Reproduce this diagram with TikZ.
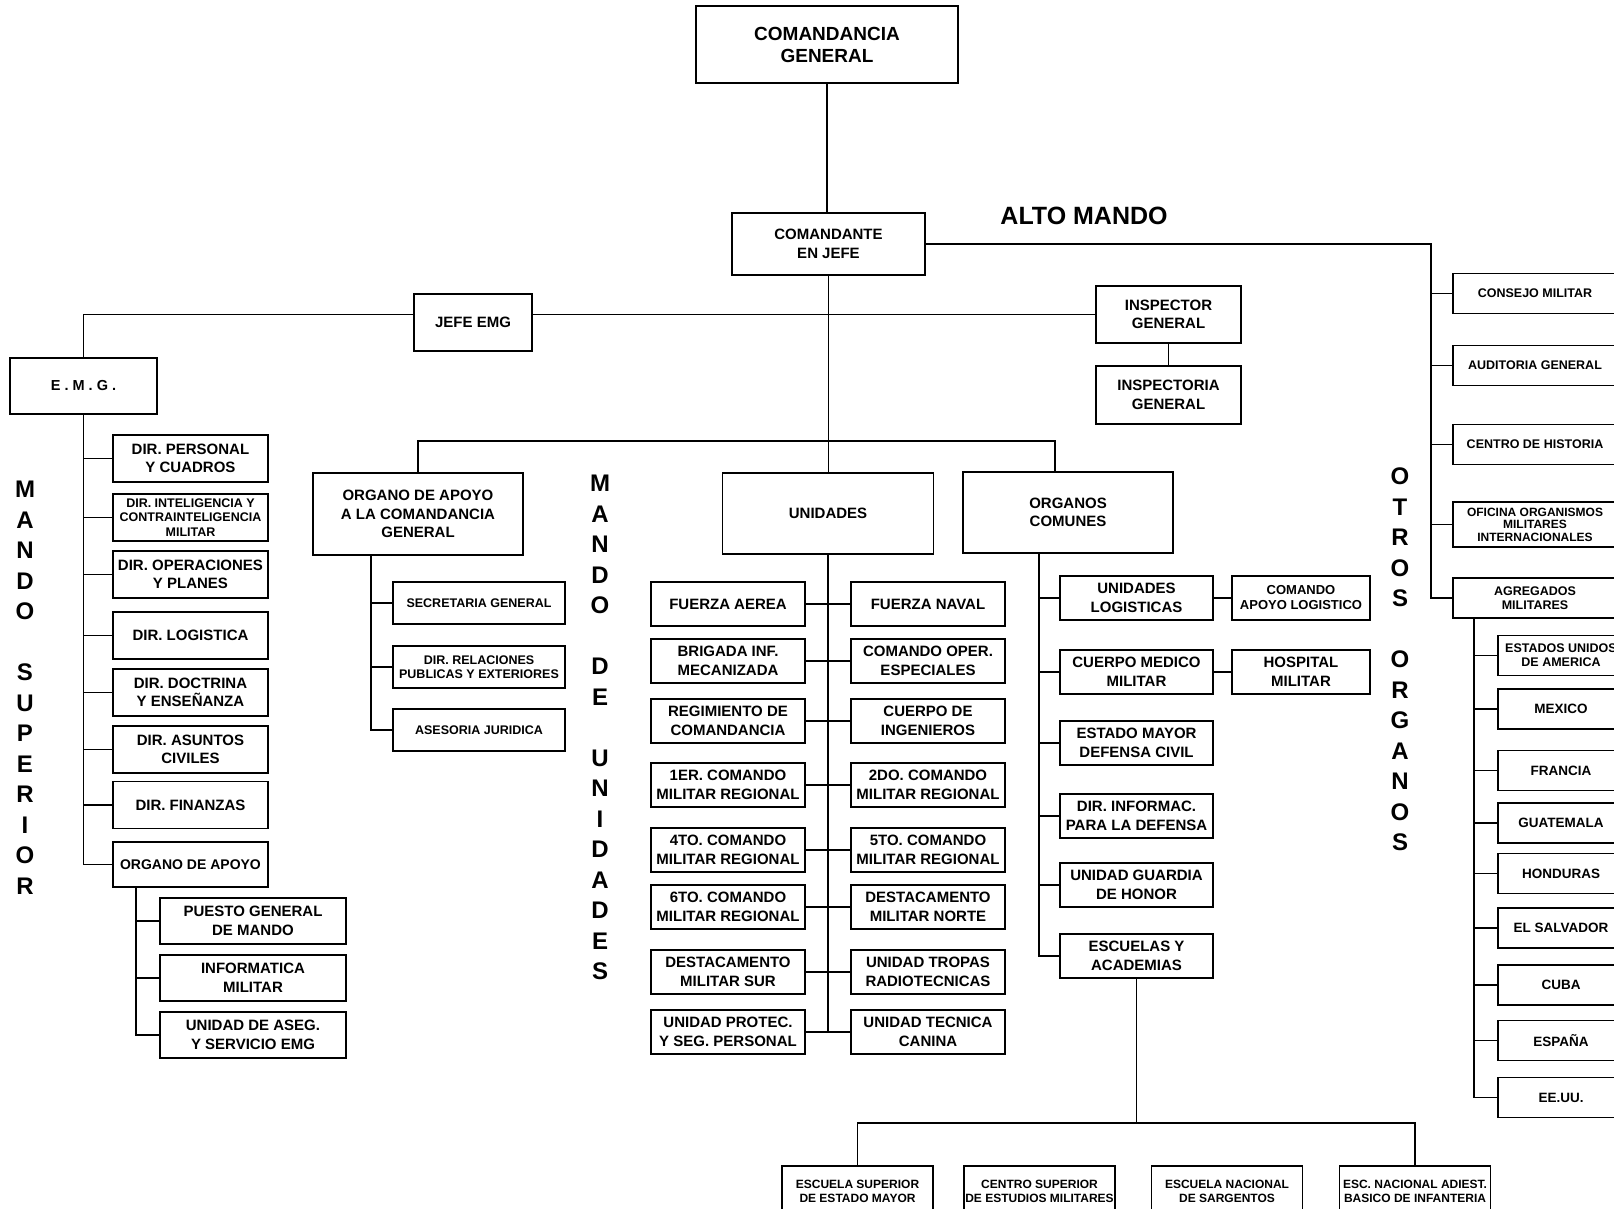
\documentclass[tikz,border=0pt]{standalone}
\usepackage{fontspec}
\setmainfont{Liberation Sans}
\usetikzlibrary{positioning}

\tikzset{
  box/.style={draw,fill=white,line width=1.8pt,align=center,inner sep=1pt,
    font=\bfseries\fontsize{15}{18.5}\selectfont},
  sbox/.style={box,font=\bfseries\fontsize{12.5}{14}\selectfont},
  dirbox/.style={box,minimum width=155,minimum height=47},
  unibox/.style={box,minimum width=154,minimum height=44},
  ocbox/.style={box,minimum width=153,minimum height=44},
  otbox/.style={sbox,minimum width=164,minimum height=40},
  cbox/.style={box,font=\bfseries\fontsize{13.5}{15}\selectfont,minimum width=126,minimum height=40},
  esbox/.style={sbox,font=\bfseries\fontsize{12}{14}\selectfont,minimum width=151,minimum height=50},
  vlet/.style={align=center,inner sep=0pt,font=\bfseries\fontsize{24}{30.5}\selectfont},
  conn/.style={line width=1.6pt}
}

\begin{document}
\begin{tikzpicture}[x=1pt,y=-1pt]
  \useasboundingbox (0,0) rectangle (1614,1209);
  \fill[white] (0,0) rectangle (1614,1209);
  \clip (0,0) rectangle (1614,1209);

  % alto mando
  \node[box,font=\bfseries\fontsize{19}{22}\selectfont,minimum width=262,minimum height=77] (cg) at (827,44.5) {COMANDANCIA\\GENERAL};
  \node[box,minimum width=193,minimum height=62] (cej) at (828.5,244) {COMANDANTE\\EN JEFE};
  \node[font=\bfseries\fontsize{25}{30}\selectfont] (alto) at (1084,216) {ALTO MANDO};
  \node[box,minimum width=118,minimum height=57] (jefe) at (473,322.5) {JEFE EMG};
  \node[box,minimum width=145,minimum height=57] (insp) at (1168.5,314.5) {INSPECTOR\\GENERAL};
  \node[box,minimum width=145,minimum height=58] (inspria) at (1168.5,395) {INSPECTORIA\\GENERAL};
  \node[box,font=\bfseries\fontsize{14.5}{17}\selectfont,minimum width=147,minimum height=56] (emg) at (83.5,386) {E . M . G .};

  % mando superior
  \node[vlet] (msup) at (25,687.5) {M\\A\\N\\D\\O\\[30.5pt]S\\U\\P\\E\\R\\I\\O\\R};
  \node[dirbox] (dper) at (190.5,458.5) {DIR. PERSONAL\\Y CUADROS};
  \node[dirbox,font=\bfseries\fontsize{12.5}{14.5}\selectfont] (dint) at (190.5,517.5) {DIR. INTELIGENCIA Y\\CONTRAINTELIGENCIA\\MILITAR};
  \node[dirbox] (dop) at (190.5,574.5) {DIR. OPERACIONES\\Y PLANES};
  \node[dirbox] (dlog) at (190.5,635.5) {DIR. LOGISTICA};
  \node[dirbox] (ddoc) at (190.5,692.5) {DIR. DOCTRINA\\Y ENSEÑANZA};
  \node[dirbox] (dciv) at (190.5,749.5) {DIR. ASUNTOS\\CIVILES};
  \node[dirbox] (dfin) at (190.5,805) {DIR. FINANZAS};
  \node[dirbox,font=\bfseries\fontsize{14}{17}\selectfont,minimum height=45] (oapoyo) at (190.5,864.5) {ORGANO DE APOYO};
  \node[box,minimum width=186,minimum height=46] (pgm) at (253,921) {PUESTO GENERAL\\DE MANDO};
  \node[box,minimum width=186,minimum height=46] (infm) at (253,978) {INFORMATICA\\MILITAR};
  \node[box,minimum width=186,minimum height=46] (aseg) at (253,1035) {UNIDAD DE ASEG.\\Y SERVICIO EMG};

  % organo de apoyo a la comandancia
  \node[box,minimum width=210,minimum height=82] (oacg) at (418,514) {ORGANO DE APOYO\\A LA COMANDANCIA\\GENERAL};
  \node[sbox,minimum width=172,minimum height=42] (sec) at (479,603) {SECRETARIA GENERAL};
  \node[sbox,minimum width=172,minimum height=42] (drp) at (479,667) {DIR. RELACIONES\\PUBLICAS Y EXTERIORES};
  \node[sbox,minimum width=172,minimum height=42] (aj) at (479,730) {ASESORIA JURIDICA};

  % mando de unidades
  \node[vlet] (mdu) at (600,727.5) {M\\A\\N\\D\\O\\[30.5pt]D\\E\\[30.5pt]U\\N\\I\\D\\A\\D\\E\\S};
  \node[box,minimum width=211,minimum height=81] (uni) at (828,513.5) {UNIDADES};
  \node[unibox] (fa) at (728,604) {FUERZA AEREA};
  \node[unibox] (fn) at (928,604) {FUERZA NAVAL};
  \node[unibox] (bim) at (728,661) {BRIGADA INF.\\MECANIZADA};
  \node[unibox] (coe) at (928,661) {COMANDO OPER.\\ESPECIALES};
  \node[unibox] (rc) at (728,721) {REGIMIENTO DE\\COMANDANCIA};
  \node[unibox] (ci) at (928,721) {CUERPO DE\\INGENIEROS};
  \node[unibox] (cmr1) at (728,785) {1ER. COMANDO\\MILITAR REGIONAL};
  \node[unibox] (cmr2) at (928,785) {2DO. COMANDO\\MILITAR REGIONAL};
  \node[unibox] (cmr4) at (728,850) {4TO. COMANDO\\MILITAR REGIONAL};
  \node[unibox] (cmr5) at (928,850) {5TO. COMANDO\\MILITAR REGIONAL};
  \node[unibox] (cmr6) at (728,907) {6TO. COMANDO\\MILITAR REGIONAL};
  \node[unibox] (dmn) at (928,907) {DESTACAMENTO\\MILITAR NORTE};
  \node[unibox] (dms) at (728,972) {DESTACAMENTO\\MILITAR SUR};
  \node[unibox] (utr) at (928,972) {UNIDAD TROPAS\\RADIOTECNICAS};
  \node[unibox] (upsp) at (728,1032) {UNIDAD PROTEC.\\Y SEG. PERSONAL};
  \node[unibox] (utc) at (928,1032) {UNIDAD TECNICA\\CANINA};

  % organos comunes
  \node[box,minimum width=210,minimum height=81] (ocom) at (1068,512.5) {ORGANOS\\COMUNES};
  \node[ocbox] (ul) at (1136.5,598) {UNIDADES\\LOGISTICAS};
  \node[box,font=\bfseries\fontsize{13}{15}\selectfont,minimum width=138,minimum height=44] (cal) at (1301,598) {COMANDO\\APOYO LOGISTICO};
  \node[ocbox] (cmm) at (1136.5,672) {CUERPO MEDICO\\MILITAR};
  \node[box,minimum width=138,minimum height=44] (hm) at (1301,672) {HOSPITAL\\MILITAR};
  \node[ocbox] (emdc) at (1136.5,743) {ESTADO MAYOR\\DEFENSA CIVIL};
  \node[ocbox] (dipd) at (1136.5,816) {DIR. INFORMAC.\\PARA LA DEFENSA};
  \node[ocbox] (ugh) at (1136.5,885) {UNIDAD GUARDIA\\DE HONOR};
  \node[ocbox] (esc) at (1136.5,956) {ESCUELAS Y\\ACADEMIAS};
  \node[esbox] (ess) at (857.5,1191) {ESCUELA SUPERIOR\\DE ESTADO MAYOR};
  \node[esbox] (ces) at (1039.5,1191) {CENTRO SUPERIOR\\DE ESTUDIOS MILITARES};
  \node[esbox] (ens) at (1227,1191) {ESCUELA NACIONAL\\DE SARGENTOS};
  \node[esbox] (ena) at (1415,1191) {ESC. NACIONAL ADIEST.\\BASICO DE INFANTERIA};

  % otros organos
  \node[vlet] (oto) at (1400,659.5) {O\\T\\R\\O\\S\\[30.5pt]O\\R\\G\\A\\N\\O\\S};
  \node[otbox] (cm) at (1535,293.5) {CONSEJO MILITAR};
  \node[otbox] (ag) at (1535,365.5) {AUDITORIA GENERAL};
  \node[otbox] (ch) at (1535,444.5) {CENTRO DE HISTORIA};
  \node[otbox,font=\bfseries\fontsize{12}{12.5}\selectfont,minimum height=45] (ofi) at (1535,524.5) {OFICINA ORGANISMOS\\MILITARES\\INTERNACIONALES};
  \node[otbox] (agr) at (1535,598) {AGREGADOS\\MILITARES};
  \node[cbox,font=\bfseries\fontsize{12.5}{14}\selectfont] (usa) at (1561,655.5) {ESTADOS UNIDOS\\DE AMERICA};
  \node[cbox] (mex) at (1561,709) {MEXICO};
  \node[cbox] (fra) at (1561,770.5) {FRANCIA};
  \node[cbox] (gua) at (1561,823) {GUATEMALA};
  \node[cbox] (hon) at (1561,873.5) {HONDURAS};
  \node[cbox] (els) at (1561,928) {EL SALVADOR};
  \node[cbox] (cuba) at (1561,985) {CUBA};
  \node[cbox] (esp) at (1561,1040.5) {ESPAÑA};
  \node[cbox] (eeuu) at (1561,1097.5) {EE.UU.};

  % connectors
  \coordinate (split) at (824,441);
  \coordinate (oaj) at ([xshift=24pt]oapoyo.south west);
  \coordinate (oacgj) at ([xshift=-47pt]oacg.south);
  \coordinate (ocj) at ([xshift=-29pt]ocom.south);
  \coordinate (otj) at ([xshift=-21pt]agr.west);
  \coordinate (agj) at ([xshift=22pt]agr.south west);

  \draw[conn] (cg.south) -- (cg.south |- cej.north);
  \draw[conn] (cej.south) -- (cej.south |- uni.north);
  \draw[conn] (emg.north) |- (jefe.west |- insp.west);
  \draw[conn] (jefe.east |- insp.west) -- (insp.west);
  \draw[conn] (insp) -- (inspria);
  \draw[conn] (oacg.north) |- (split) -| ([xshift=-13pt]ocom.north);
  \draw[conn] (cej.east) -| (otj) -- (agr.west);

  \draw[conn] (emg.south) -- (emg.south |- oapoyo.west);
  \foreach \n in {dper,dint,dop,dlog,ddoc,dciv,dfin,oapoyo}
    \draw[conn] (emg.south |- \n.west) -- (\n.west);
  \draw[conn] (oaj) |- (aseg.west);
  \foreach \n in {pgm,infm}
    \draw[conn] (oaj |- \n.west) -- (\n.west);

  \draw[conn] (oacgj) |- (aj.west);
  \foreach \n in {sec,drp}
    \draw[conn] (oacgj |- \n.west) -- (\n.west);

  \draw[conn] (uni.south) -- (uni.south |- upsp.east);
  \foreach \a/\b in {fa/fn,bim/coe,rc/ci,cmr1/cmr2,cmr4/cmr5,cmr6/dmn,dms/utr,upsp/utc}
    \draw[conn] (\a) -- (\b);

  \draw[conn] (ocj) |- (esc.west);
  \foreach \n in {ul,cmm,emdc,dipd,ugh}
    \draw[conn] (ocj |- \n.west) -- (\n.west);
  \draw[conn] (ul) -- (cal);
  \draw[conn] (cmm) -- (hm);
  \draw[conn] (esc.south) -- ++(0,144) coordinate (esj);
  \draw[conn] (ess.north) |- (esj) -| (ena.north);

  \foreach \n in {cm,ag,ch,ofi}
    \draw[conn] (otj |- \n.west) -- (\n.west);
  \draw[conn] (agj) |- (eeuu.west);
  \foreach \n in {usa,mex,fra,gua,hon,els,cuba,esp}
    \draw[conn] (agj |- \n.west) -- (\n.west);
\end{tikzpicture}
\end{document}
